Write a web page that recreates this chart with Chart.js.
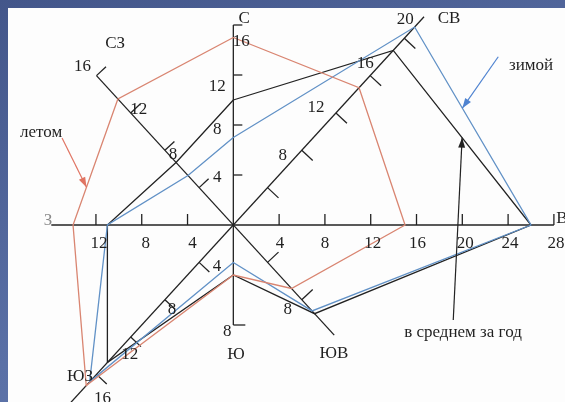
<!DOCTYPE html>
<html>
<head>
<meta charset="utf-8">
<script src="https://cdn.jsdelivr.net/npm/chart.js@4.4.0/dist/chart.umd.min.js"></script>
<style>
  html, body { margin: 0; padding: 0; }
  body { width: 565px; height: 402px; overflow: hidden; position: relative;
    background: linear-gradient(160deg, #43568a 0%, #5a70a6 60%, #6279ad 100%); }
  #panel { position: absolute; left: 8px; top: 8px; right: 0; bottom: 0; background: #fdfdfd; }
  #rose { position: absolute; left: 0; top: 0; }
</style>
</head>
<body>
<div id="panel"></div>
<canvas id="rose" width="565" height="402"></canvas>
<script>
// румбы, по часовой стрелке от севера
const directions = ['С', 'СВ', 'В', 'ЮВ', 'Ю', 'ЮЗ', 'З', 'СЗ'];

// повторяемость ветров по румбам
const summer  = [15, 14.7, 15, 6.8, 4, 17.2, 14, 13.5];   // летом
const winter  = [7, 21.2, 26, 9.2, 3, 16.8, 11, 5.3];     // зимой
const average = [10, 18.7, 26, 9.5, 4, 14.7, 11, 6.7];    // в среднем за год

// деления на осях
const ticksN  = [4, 8, 12, 16];
const ticksNE = [4, 8, 12, 16, 20];
const ticksE  = [4, 8, 12, 16, 20, 24, 28];
const ticksSE = [4, 8];
const ticksS  = [8];
const ticksSW = [4, 8, 12, 16];
const ticksW  = [4, 8, 12];
const ticksNW = [4, 8, 12, 16];

// подписи делений
const labelsN  = [4, 8, 12, 16];
const labelsNE = [8, 12, 16, 20];
const labelsE  = [4, 8, 12, 16, 20, 24, 28];
const labelsSE = [8];
const labelsS  = [8];
const labelsSW = [4, 8, 12, 16];
const labelsW  = [4, 8, 12];
const labelsNW = [8, 12, 16];

// ---- layout (geometry of the drawing, not data) ----
const K = 0.747; // diagonal axes are drawn a little longer in the source
const dirVec = [[0, 1], [K, K], [1, 0], [K, -K], [0, -1], [-K, -K], [-1, 0], [-K, K]];

// axis lines: [dir from, length], [dir to, length]
const axisLines = [[6, 15.9, 2, 28], [4, 8, 0, 16], [3, 11.8, 7, 16], [5, 19, 1, 22.3]];

const upR = [0.731, -0.683], downR = [0.731, 0.683];
const tickSets = [
  { dir: 0, vals: ticksN,  side: [1, 0],  len: 9 },
  { dir: 1, vals: ticksNE, side: downR,   len: 15 },
  { dir: 2, vals: ticksE,  side: [0, -1], len: 11 },
  { dir: 3, vals: ticksSE, side: upR,     len: 15 },
  { dir: 4, vals: ticksS,  side: [1, 0],  len: 12 },
  { dir: 5, vals: ticksSW, side: downR,   len: 14 },
  { dir: 6, vals: ticksW,  side: [0, -1], len: 11 },
  { dir: 7, vals: ticksNW, side: upR,     len: 13 }
];

const labelSets = [
  { dir: 0, vals: labelsN,  off: [[-16, 3], [-16, 5], [-16, 12], [8, 17]] },
  { dir: 1, vals: labelsNE, off: [[-19, 5], [-20, -5], [-5, -12], [1, -19]] },
  { dir: 2, vals: labelsE,  off: [[1, 19], [0, 19], [2, 19], [1, 19], [3, 19], [2, 19], [2, 19]] },
  { dir: 3, vals: labelsSE, off: [[-14, 10]] },
  { dir: 4, vals: labelsS,  off: [[-6, 7]] },
  { dir: 5, vals: labelsSW, off: [[18, 4], [7, 10], [-1, 17], [6, 24]] },
  { dir: 6, vals: labelsW,  off: [[5, 19], [4, 19], [3, 19]] },
  { dir: 7, vals: labelsNW, off: [[8, 4], [8, -3], [-14, -9]] }
];

// direction names, placed in data units
const dirNamePos = [[0.95, 16.55], [18.84, 16.48], [28.7, 0.48], [8.79, -10.32],
                    [0.24, -10.4], [-13.39, -12.16], [-16.18, 0.32], [-10.33, 14.48]];

const colSummer = '#d98571', colWinter = '#6191c6', colAvg = '#222';
const textCol = '#1f1f1f';

// annotations: text position, arrow tail, arrow tip on a polygon edge
const notes = [
  { text: 'летом', at: [-16.79, 7.36], tail: [-14.96, 6.96], series: summer, edge: [6, 7], t: 0.3, color: '#e07462' },
  { text: 'зимой', at: [26.0, 12.72], tail: [23.14, 13.46], series: winter, edge: [1, 2], t: 0.41, color: '#4f83d0' },
  { text: 'в среднем за год', at: [20.06, -8.64], tail: [19.21, -7.6], series: average, edge: [1, 2], t: 0.5, color: '#222' }
];

function ring(values) {
  const pts = values.map((v, i) => ({ x: v * dirVec[i][0], y: v * dirVec[i][1] }));
  pts.push(pts[0]);
  return pts;
}

function toPx(chart, x, y) {
  return [chart.scales.x.getPixelForValue(x), chart.scales.y.getPixelForValue(y)];
}

function alongPx(chart, dir, r) {
  return toPx(chart, r * dirVec[dir][0], r * dirVec[dir][1]);
}

const rosePlugin = {
  id: 'rose',
  beforeDatasetsDraw(chart) {
    const ctx = chart.ctx;
    ctx.save();
    ctx.strokeStyle = '#222';
    ctx.lineWidth = 1.3;
    axisLines.forEach(a => {
      const p1 = alongPx(chart, a[0], a[1]);
      const p2 = alongPx(chart, a[2], a[3]);
      ctx.beginPath();
      ctx.moveTo(p1[0], p1[1]);
      ctx.lineTo(p2[0], p2[1]);
      ctx.stroke();
    });
    tickSets.forEach(s => {
      s.vals.forEach(v => {
        const p = alongPx(chart, s.dir, v);
        ctx.beginPath();
        ctx.moveTo(p[0], p[1]);
        ctx.lineTo(p[0] + s.side[0] * s.len, p[1] + s.side[1] * s.len);
        ctx.stroke();
      });
    });
    ctx.restore();
  },
  afterDatasetsDraw(chart) {
    const ctx = chart.ctx;
    ctx.save();
    ctx.font = '17px "Liberation Serif", "Times New Roman", serif';
    ctx.textAlign = 'center';
    ctx.textBaseline = 'middle';
    ctx.fillStyle = textCol;
    labelSets.forEach(s => {
      s.vals.forEach((v, i) => {
        const p = alongPx(chart, s.dir, v);
        ctx.fillText(String(v), p[0] + s.off[i][0], p[1] + s.off[i][1]);
      });
    });
    directions.forEach((d, i) => {
      const p = toPx(chart, dirNamePos[i][0], dirNamePos[i][1]);
      ctx.fillStyle = i === 6 ? '#8a8a8a' : textCol;
      ctx.fillText(d, p[0], p[1]);
    });
    notes.forEach(n => {
      const a = n.series[n.edge[0]], b = n.series[n.edge[1]];
      const va = dirVec[n.edge[0]], vb = dirVec[n.edge[1]];
      const tx = a * va[0] + (b * vb[0] - a * va[0]) * n.t;
      const ty = a * va[1] + (b * vb[1] - a * va[1]) * n.t;
      const tip = toPx(chart, tx, ty);
      const tail = toPx(chart, n.tail[0], n.tail[1]);
      const ang = Math.atan2(tip[1] - tail[1], tip[0] - tail[0]);
      ctx.strokeStyle = n.color;
      ctx.fillStyle = n.color;
      ctx.lineWidth = 1.2;
      ctx.beginPath();
      ctx.moveTo(tail[0], tail[1]);
      ctx.lineTo(tip[0], tip[1]);
      ctx.stroke();
      ctx.beginPath();
      ctx.moveTo(tip[0], tip[1]);
      ctx.lineTo(tip[0] - 10 * Math.cos(ang) + 3.5 * Math.sin(ang), tip[1] - 10 * Math.sin(ang) - 3.5 * Math.cos(ang));
      ctx.lineTo(tip[0] - 10 * Math.cos(ang) - 3.5 * Math.sin(ang), tip[1] - 10 * Math.sin(ang) + 3.5 * Math.cos(ang));
      ctx.closePath();
      ctx.fill();
      const p = toPx(chart, n.at[0], n.at[1]);
      ctx.fillStyle = textCol;
      ctx.fillText(n.text, p[0], p[1]);
    });
    ctx.restore();
  }
};

function series(label, values, color) {
  return {
    label: label,
    data: ring(values),
    showLine: true,
    borderColor: color,
    backgroundColor: color,
    borderWidth: 1.3,
    pointRadius: 0,
    tension: 0,
    clip: false
  };
}

const roseChart = new Chart(document.getElementById('rose'), {
  type: 'scatter',
  data: {
    datasets: [
      series('летом', summer, colSummer),
      series('зимой', winter, colWinter),
      series('в среднем за год', average, colAvg)
    ]
  },
  options: {
    responsive: false,
    animation: false,
    layout: { padding: 0 },
    plugins: { legend: { display: false }, tooltip: { enabled: false } },
    scales: {
      x: { type: 'linear', min: -20.38, max: 28.97, display: false },
      y: { type: 'linear', min: -14.16, max: 18.0, display: false }
    }
  },
  plugins: [rosePlugin]
});
</script>
</body>
</html>
